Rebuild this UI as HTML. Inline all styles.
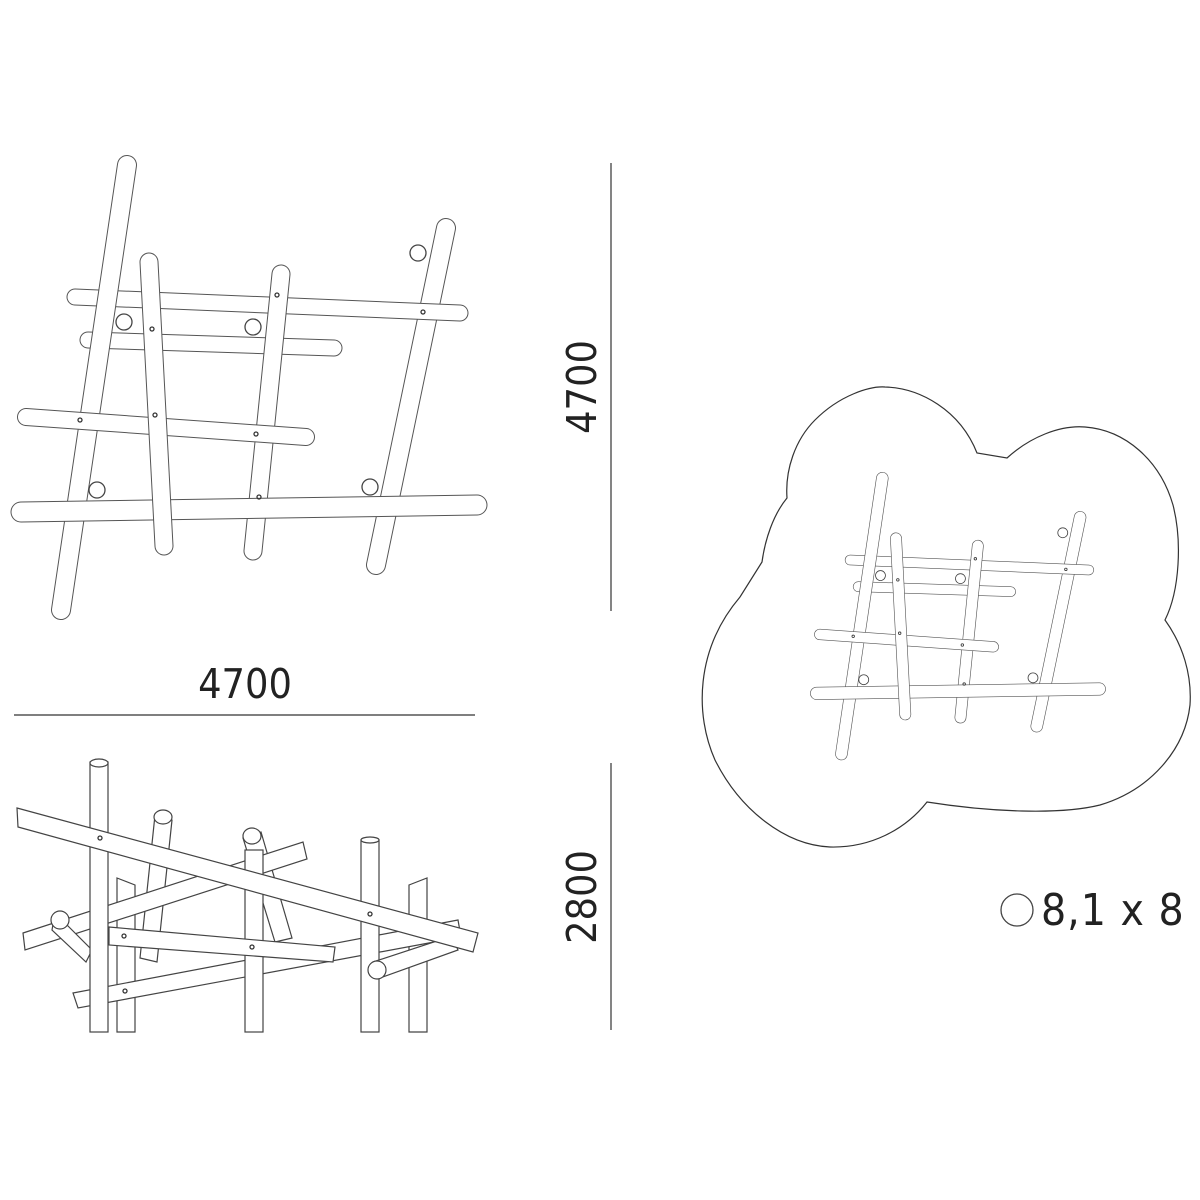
<!DOCTYPE html>
<html><head><meta charset="utf-8"><style>
html,body{margin:0;padding:0;background:#fff;}
svg{display:block}
text{font-family:"DejaVu Sans Condensed","Liberation Sans Narrow","Liberation Sans",sans-serif;fill:#222}
</style></head><body>
<svg width="1200" height="1200" viewBox="0 0 1200 1200" xmlns="http://www.w3.org/2000/svg">
<defs>
<g id="plan">
  <line x1="446" y1="228" x2="376" y2="565" stroke="#555" stroke-width="20" stroke-linecap="round"/>
  <line x1="446" y1="228" x2="376" y2="565" stroke="#fff" stroke-width="18" stroke-linecap="round"/>
  <line x1="75" y1="297" x2="460" y2="313" stroke="#555" stroke-width="17" stroke-linecap="round"/>
  <line x1="75" y1="297" x2="460" y2="313" stroke="#fff" stroke-width="15" stroke-linecap="round"/>
  <line x1="88" y1="340" x2="334" y2="348" stroke="#555" stroke-width="17" stroke-linecap="round"/>
  <line x1="88" y1="340" x2="334" y2="348" stroke="#fff" stroke-width="15" stroke-linecap="round"/>
  <line x1="127" y1="165" x2="61" y2="610" stroke="#555" stroke-width="20" stroke-linecap="round"/>
  <line x1="127" y1="165" x2="61" y2="610" stroke="#fff" stroke-width="18" stroke-linecap="round"/>
  <line x1="281" y1="274" x2="253" y2="551" stroke="#555" stroke-width="19" stroke-linecap="round"/>
  <line x1="281" y1="274" x2="253" y2="551" stroke="#fff" stroke-width="17" stroke-linecap="round"/>
  <line x1="26" y1="417" x2="306" y2="437" stroke="#555" stroke-width="18" stroke-linecap="round"/>
  <line x1="26" y1="417" x2="306" y2="437" stroke="#fff" stroke-width="16" stroke-linecap="round"/>
  <line x1="21" y1="512" x2="477" y2="505" stroke="#555" stroke-width="21" stroke-linecap="round"/>
  <line x1="21" y1="512" x2="477" y2="505" stroke="#fff" stroke-width="19" stroke-linecap="round"/>
  <line x1="149" y1="262" x2="164" y2="546" stroke="#555" stroke-width="19" stroke-linecap="round"/>
  <line x1="149" y1="262" x2="164" y2="546" stroke="#fff" stroke-width="17" stroke-linecap="round"/>
  <g fill="#fff" stroke="#444" stroke-width="1.3">
    <circle cx="124" cy="322" r="8"/><circle cx="253" cy="327" r="8"/>
    <circle cx="418" cy="253" r="8"/><circle cx="97" cy="490" r="8"/><circle cx="370" cy="487" r="8"/>
  </g>
  <g fill="none" stroke="#333" stroke-width="1.3">
    <circle cx="152" cy="329" r="2"/><circle cx="155" cy="415" r="2"/><circle cx="277" cy="295" r="2"/>
    <circle cx="256" cy="434" r="2"/><circle cx="259" cy="497" r="2"/><circle cx="80" cy="420" r="2"/>
    <circle cx="423" cy="312" r="2"/>
  </g>
</g>
</defs>

<use href="#plan"/>

<line x1="14" y1="715" x2="475" y2="715" stroke="#333" stroke-width="1.2"/>
<text x="245" y="698" font-size="41" text-anchor="middle">4700</text>
<line x1="611" y1="163" x2="611" y2="611" stroke="#333" stroke-width="1.2"/>
<text transform="translate(596,387) rotate(-90)" font-size="41" text-anchor="middle">4700</text>
<line x1="611" y1="763" x2="611" y2="1030" stroke="#333" stroke-width="1.2"/>
<text transform="translate(596,897) rotate(-90)" font-size="41" text-anchor="middle">2800</text>

<path d="M787,498 C785,470 795,440 815,420 C840,395 870,386 885,387 C920,388 960,410 977,453 L1007,458 C1030,437 1060,425 1085,427 C1125,430 1160,460 1173,505 C1182,540 1180,590 1165,620 C1183,645 1192,675 1190,705 C1185,750 1150,790 1100,805 C1060,815 990,812 927,802 C905,830 870,848 830,847 C785,845 740,810 715,760 C695,715 695,650 740,597 L762,562 C765,540 773,515 787,498 Z" fill="#fff" stroke="#333" stroke-width="1.2"/>
<g transform="translate(803.6,375.9) scale(0.62)"><use href="#plan"/></g>

<circle cx="1017" cy="910" r="16" fill="#fff" stroke="#444" stroke-width="1.3"/>
<text x="1041" y="925" font-size="44" letter-spacing="1">8,1 x 8</text>

<g stroke="#444" stroke-width="1.2" fill="#fff">
  <path d="M155,815 L172,820 L157,962 L140,958 Z"/>
  <ellipse cx="163" cy="817" rx="9" ry="7"/>
  <path d="M243,838 L261,832 L292,938 L275,942 Z"/>
  <ellipse cx="252" cy="836" rx="9" ry="8"/>
  <path d="M117,878 L135,885 L135,1032 L117,1032 Z"/>
  <path d="M409,885 L427,878 L427,1032 L409,1032 Z"/>
  <path d="M73,993 L458,920 L461,937 L78,1008 Z"/>
  <path d="M23,933 L303,842 L307,859 L25,950 Z"/>
  <path d="M55,913 L92,950 L86,962 L52,930 Z"/>
  <ellipse cx="60" cy="920" rx="9" ry="9"/>
  <rect x="90" y="762" width="18" height="270"/>
  <ellipse cx="99" cy="763" rx="9" ry="4"/>
  <rect x="245" y="850" width="18" height="182"/>
  <rect x="361" y="840" width="18" height="192"/>
  <ellipse cx="370" cy="840" rx="9" ry="3"/>
  <path d="M109,927 L335,947 L333,962 L109,945 Z"/>
  <path d="M373,962 L452,936 L458,950 L380,978 Z"/>
  <ellipse cx="377" cy="970" rx="9" ry="9"/>
  <path d="M17,808 L478,933 L473,952 L18,827 Z"/>
</g>
<g fill="none" stroke="#333" stroke-width="1.3">
  <circle cx="100" cy="838" r="2"/><circle cx="370" cy="914" r="2"/>
  <circle cx="124" cy="936" r="2"/><circle cx="252" cy="947" r="2"/><circle cx="125" cy="991" r="2"/>
</g>
</svg>
</body></html>
